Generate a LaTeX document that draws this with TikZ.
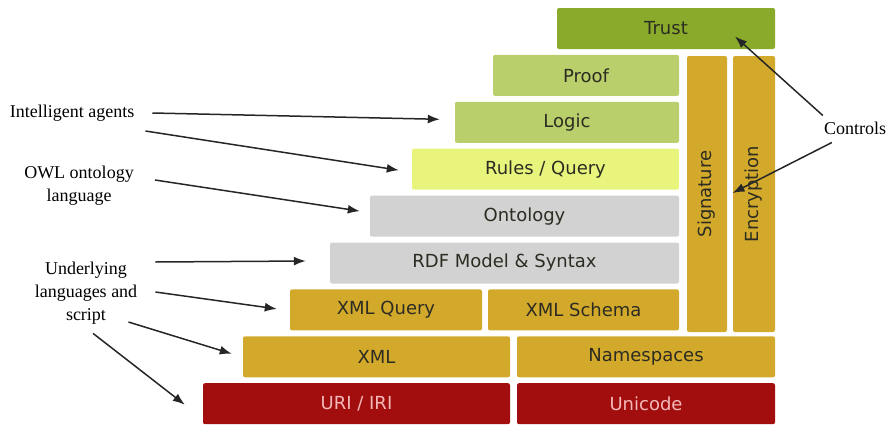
\documentclass[tikz,border=0pt]{standalone}
\usepackage{fontspec}
\setmainfont{Liberation Serif}
\newfontfamily\layerfont{DejaVu Sans}
\usetikzlibrary{calc,arrows.meta}

\definecolor{trustgreen}{HTML}{8AAA2C}
\definecolor{logicgreen}{HTML}{B9CF6B}
\definecolor{rulesyellow}{HTML}{E8F47C}
\definecolor{rdfgray}{HTML}{D2D2D2}
\definecolor{xmlgold}{HTML}{D3A92C}
\definecolor{urired}{HTML}{A20E0E}
\definecolor{uritext}{HTML}{F4B8B8}
\definecolor{darktext}{HTML}{2C2C22}

\def \LayH {41}
\tikzstyle{layer}=[
  rounded corners=2pt,
  inner sep=0pt,
  minimum height=\LayH pt,
  font=\layerfont\fontsize{18}{20}\selectfont
]
\tikzstyle{caption}=[
  align=center,
  inner sep=0pt,
  font=\fontsize{18}{23}\selectfont
]
\tikzstyle{pointer}=[
  -{Latex[length=12pt,width=9pt]},
  line width=1.5pt,
  black!85
]

\begin{document}
\begin{tikzpicture}[x=1pt, y=-1pt]
  \useasboundingbox (0,0) rectangle (895,426);

  \def \Pitch {46.9}
  \def \TopY {8}

  % the stack, one row after the other
  \foreach \name/\txt/\row/\xa/\xb/\col/\tc in {
      trust/Trust/0/557/775/trustgreen/darktext,
      proof/Proof/1/493/679/logicgreen/darktext,
      logic/Logic/2/455/679/logicgreen/darktext,
      rules/{Rules / Query}/3/412/679/rulesyellow/darktext,
      ontology/Ontology/4/370/679/rdfgray/darktext,
      rdf/{RDF Model \& Syntax}/5/330/679/rdfgray/darktext,
      xmlq/XML Query/6/290/482/xmlgold/darktext,
      xmls/XML Schema/6/488/679/xmlgold/darktext,
      xml/XML/7/243/510/xmlgold/darktext,
      ns/Namespaces/7/517/775/xmlgold/darktext,
      uri/{URI / IRI}/8/203/510/urired/uritext,
      uni/Unicode/8/517/775/urired/uritext}{
    \node[layer, fill=\col, text=\tc, minimum width={(\xb-\xa)*1pt}]
      (\name) at ({(\xa+\xb)/2}, {\TopY + \row*\Pitch + \LayH/2}) {\txt};
  }

  % the two columns on the right
  \node[layer, fill=xmlgold, text=darktext, rotate=90,
    minimum width=276pt, minimum height=40pt] (signature) at (707,194) {Signature};
  \node[layer, fill=xmlgold, text=darktext, rotate=90,
    minimum width=276pt, minimum height=42pt] (encryption) at (754,194) {Encryption};

  % captions
  \node[caption] (agents) at (72,113) {Intelligent agents};
  \node[caption] (owl) at (79,186) {OWL ontology\\language};
  \node[caption] (under) at (86,293) {Underlying\\languages and\\script};
  \node[caption] (controls) at (855,128) {Controls};

  \draw[pointer] ($(agents.east)+(18,0)$) -- ($(logic.west)+(-15,-3)$);
  \draw[pointer] ($(agents.east)+(11,18)$) -- ($(rules.west)+(-13,1)$);
  \draw[pointer] ($(owl.east)+(21,-6)$) -- ($(ontology.west)+(-10,-5)$);
  \draw[pointer] ($(under.east)+(18,-31)$) -- ($(rdf.west)+(-24,-2)$);
  \draw[pointer] ($(under.east)+(18,-1)$) -- ($(xmlq.west)+(-13,-1)$);
  \draw[pointer] ($(under.east)+(-9,29)$) -- ($(xml.west)+(-11,-3)$);
  \draw[pointer] ($(under.south)+(7,9)$) -- ($(uri.west)+(-18,1)$);

  \draw[pointer] ($(controls.north west)+(-1,-6)$) -- ($(trust.center)+(69,8)$);
  \draw[pointer] ($(controls.south west)+(8,8)$)
    -- ($($(signature.center)!0.5!(encryption.center)$)+(2,-1)$);
\end{tikzpicture}
\end{document}
